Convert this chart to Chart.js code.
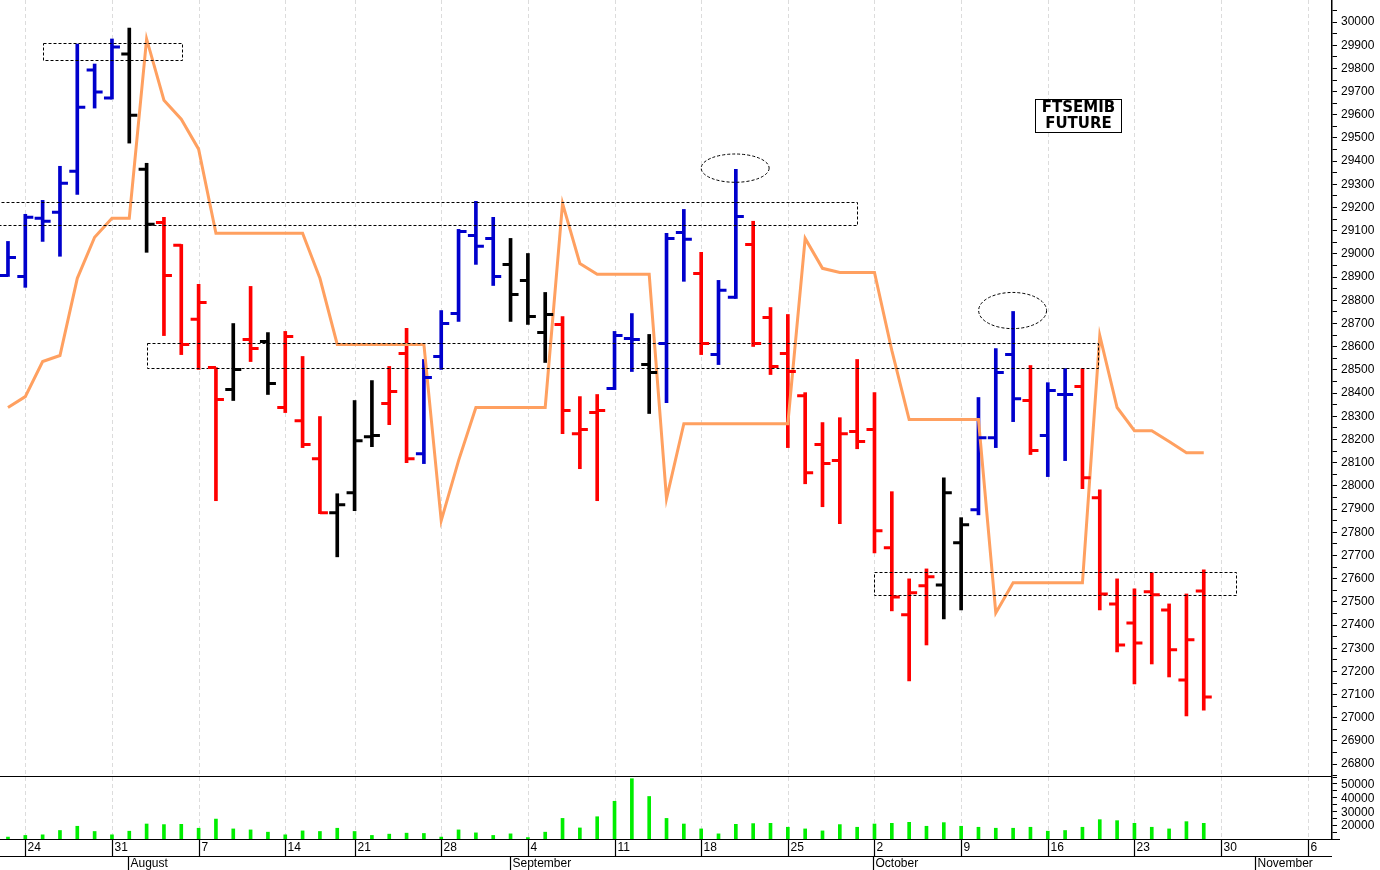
<!DOCTYPE html>
<html><head><meta charset="utf-8">
<script src="https://cdn.jsdelivr.net/npm/chart.js@4"></script>
<style>
html,body{margin:0;padding:0;background:#fff;}
#wrap{position:relative;width:1380px;height:870px;}
</style></head><body>
<div id="wrap"><div id="p1" style="position:absolute;left:0;top:0;width:1380px;height:776px"><canvas id="c1"></canvas></div>
<div id="p2" style="position:absolute;left:0;top:776px;width:1380px;height:94px"><canvas id="c2"></canvas></div></div>
<script>
// ---- data (trading-day index 0 = Fri 21 Jul) ----
const opens  = [28907,28903,29154,29180,29357,29793,29672,29862,29365,29136,29037,28718,28510,28415,28631,28623,28338,28281,28117,27884,27970,28212,28355,28571,28139,28558,28743,29080,29067,28955,28886,28661,28696,28225,28316,28420,28635,28523,28614,29093,28916,28566,28813,29041,28726,28571,28389,28178,28109,28234,28243,27733,27444,27569,27573,27755,27897,28208,28566,28368,28217,28394,28428,27949,27491,27409,27543,27465,27163,27547];
const highs  = [29054,29171,29231,29378,29905,29819,29927,29974,29391,29158,29041,28869,28510,28700,28860,28661,28666,28558,28299,27966,28368,28454,28515,28679,28545,28756,29106,29227,29158,29067,29002,28834,28730,28385,28394,28666,28743,28653,29089,29192,29007,28886,29365,29141,28769,28739,28402,28273,28294,28545,28402,27975,27599,27642,28035,27863,28381,28592,28752,28519,28445,28506,28506,27983,27599,27556,27625,27491,27534,27638];
const lows   = [28903,28856,29054,28990,29257,29629,29668,29478,29007,28648,28566,28502,27936,28368,28536,28394,28316,28165,27880,27694,27893,28169,28264,28100,28096,28502,28709,28955,28864,28709,28696,28532,28225,28074,27936,28415,28493,28312,28359,28882,28566,28523,28808,28601,28480,28165,28009,27910,27837,28160,27711,27461,27159,27314,27426,27465,27875,28165,28277,28135,28040,28109,27988,27465,27284,27146,27232,27176,27008,27033];
const closes = [28985,29158,29141,29305,29633,29698,29892,29598,29128,28907,28610,28791,28372,28502,28592,28441,28644,28178,27884,27919,28195,28217,28407,28117,28467,28700,29097,29033,28903,28825,28730,28739,28325,28243,28325,28648,28631,28489,29067,29063,28614,28843,29162,28614,28515,28493,28057,28096,28225,28191,27806,27521,27539,27608,27970,27832,28208,28489,28376,28152,28411,28394,28035,27534,27314,27323,27530,27293,27336,27090];
const trend  = "uuuuuuunnddddndndddnnndduuuuunnndddu u nuuduudddddddddddnnuuuduudddddddd".replace(/ /g,'');
const stopLine = [28338,28385,28536,28562,28895,29072,29154,29154,29927,29663,29581,29452,29089,29089,29089,29089,29089,29089,28895,28610,28610,28610,28610,28610,28610,27850,28109,28338,28338,28338,28338,28338,29218,28959,28912,28912,28912,28912,27945,28268,28268,28268,28268,28268,28268,28268,29067,28938,28920,28920,28920,28584,28286,28286,28286,28286,28286,27452,27582,27582,27582,27582,27582,28648,28338,28238,28238,28191,28143,28143];
const volumes = [11830,13050,13490,16650,19740,15930,13490,16140,21400,20960,21180,18300,24990,17800,17080,15430,13490,16360,15930,18300,15930,13050,13990,14710,14490,11830,17080,14920,13050,14200,11500,15430,25490,18520,26710,38000,54500,41500,25490,21400,17800,14200,21180,21680,21900,19020,17800,16360,20960,19020,21400,21900,22620,19740,22400,19740,19020,18300,18300,19020,16140,16650,19020,24560,23840,21900,19020,17800,23120,21900];
const volTicks = [20000,30000,40000,50000];
const weekIdx = [1,6,11,16,20,25,30,35,40,45,50,55,60,65,70,75];
const weekLabels = ["24","31","7","14","21","28","4","11","18","25","2","9","16","23","30","6"];
const monthIdx = [7,29,50,72];
const monthLabels = ["August","September","October","November"];
// dashed zones [x0,x1,yTop,yBottom] and ellipses [xc,yc,rx,ry(value)]
const zones = [[2,10,29909,29836],[-1,48.96,29223,29124],[8,62.9,28618,28510],[50,70.9,27630,27530]];
const ellipses = [[41.96,29370,1.96,61],[57.97,28756,1.96,78]];
const title = ["FTSEMIB","FUTURE"];
</script>
<script>
const XMIN=-0.46, XMAX=76.4;
const colOf = t => t==='u' ? '#0000CC' : (t==='d' ? '#FF0000' : '#000000');
const colors = opens.map((_,i)=>colOf(trend[i]));
const idx = opens.map((_,i)=>i);
const FONT = '"Liberation Sans", Arial, sans-serif';

const gridPlugin = {
  id:'grid',
  beforeDatasetsDraw(ch){
    const {ctx,chartArea:a}=ch; const x=ch.scales.x;
    ctx.save(); ctx.strokeStyle='#dcdcdc'; ctx.lineWidth=1; ctx.setLineDash([4,3]);
    weekIdx.forEach(w=>{const px=Math.round(x.getPixelForValue(w))+0.5; ctx.beginPath(); ctx.moveTo(px,a.top); ctx.lineTo(px,a.bottom); ctx.stroke();});
    ctx.restore();
  }
};
const ohlcPlugin = {
  id:'ohlc',
  afterDatasetsDraw(ch){
    if(ch.canvas.id!=='c1') return;
    const {ctx}=ch; const x=ch.scales.x, y=ch.scales.y;
    ctx.save();
    ctx.strokeStyle='#000'; ctx.lineWidth=1; ctx.setLineDash([3,2]);
    zones.forEach(z=>{const x0=x.getPixelForValue(z[0]),x1=x.getPixelForValue(z[1]),y0=y.getPixelForValue(z[2]),y1=y.getPixelForValue(z[3]);
      ctx.strokeRect(Math.round(x0)+0.5,Math.round(y0)+0.5,Math.round(x1-x0),Math.round(y1-y0));});
    ellipses.forEach(e=>{const cx=x.getPixelForValue(e[0]),cy=y.getPixelForValue(e[1]);
      const rx=x.getPixelForValue(e[0]+e[2])-cx, ry=cy-y.getPixelForValue(e[1]+e[3]);
      ctx.beginPath(); ctx.ellipse(cx,cy,rx,ry,0,0,Math.PI*2); ctx.stroke();});
    ctx.setLineDash([]);
    ctx.lineWidth=3;
    idx.forEach(i=>{const px=x.getPixelForValue(i); ctx.strokeStyle=colors[i];
      const yo=y.getPixelForValue(opens[i]), yc=y.getPixelForValue(closes[i]);
      ctx.beginPath(); ctx.moveTo(px-8,yo); ctx.lineTo(px,yo); ctx.moveTo(px,yc); ctx.lineTo(px+8,yc); ctx.stroke();});
    ctx.fillStyle='#fff'; ctx.fillRect(1035.5,99.5,86,33);
    ctx.strokeStyle='#000'; ctx.lineWidth=1; ctx.strokeRect(1035.5,99.5,86,33);
    ctx.fillStyle='#000'; ctx.font='bold 15px "DejaVu Sans", sans-serif'; ctx.textAlign='center'; ctx.textBaseline='middle';
    ctx.fillText(title[0],1078.5,108); ctx.fillText(title[1],1078.5,124);
    ctx.restore();
  }
};
const axisPlugin = {
  id:'bottomAxis',
  afterDraw(ch){
    if(ch.canvas.id!=='c2') return;
    const {ctx,chartArea:a}=ch; const x=ch.scales.x, y=ch.scales.y;
    ctx.save(); ctx.strokeStyle='#000'; ctx.lineWidth=1.2;
    ctx.beginPath(); ctx.moveTo(0,0.5); ctx.lineTo(a.right,0.5);
    ctx.moveTo(0,a.bottom+0.5); ctx.lineTo(a.right+8,a.bottom+0.5);
    ctx.moveTo(0,80.5); ctx.lineTo(a.right,80.5); ctx.stroke();
    ctx.fillStyle='#000'; ctx.font='12px '+FONT; ctx.textBaseline='middle'; ctx.textAlign='left';
    weekIdx.forEach((w,k)=>{const px=Math.round(x.getPixelForValue(w))+0.5;
      ctx.beginPath(); ctx.moveTo(px,a.bottom); ctx.lineTo(px,80); ctx.stroke();
      ctx.fillText(weekLabels[k],px+2,72);});
    monthIdx.forEach((m,k)=>{const px=Math.round(x.getPixelForValue(m))-0.5;
      ctx.beginPath(); ctx.moveTo(px,80); ctx.lineTo(px,94); ctx.stroke();
      ctx.fillText(monthLabels[k],px+2,88);});
    volTicks.forEach(v=>{ctx.fillText(String(v),a.right+9,y.getPixelForValue(v));});
    ctx.restore();
  }
};
const fitY = s=>{s.width=48; s.paddingTop=0; s.paddingBottom=0;};
const tickFont={family:FONT,size:12};
const xScale = {type:'linear',min:XMIN,max:XMAX,display:false,offset:false,grid:{offset:false}};

new Chart(document.getElementById('c1'),{
  data:{datasets:[
    {type:'bar',data:idx.map(i=>({x:i,y:[lows[i],highs[i]]})),backgroundColor:colors,barThickness:3,borderWidth:0,order:2},
    {type:'line',data:idx.map(i=>({x:i,y:stopLine[i]})),borderColor:'#FFA060',borderWidth:3,pointRadius:0,tension:0,order:1}
  ]},
  options:{animation:false,responsive:true,maintainAspectRatio:false,layout:{padding:0},
    plugins:{legend:{display:false},tooltip:{enabled:false}},
    scales:{
      x:xScale,
      y:{position:'right',min:26749,max:30095,afterFit:fitY,
        border:{color:'#000',width:1.5},
        grid:{drawOnChartArea:false,color:'#000',tickLength:5},
        ticks:{stepSize:50,includeBounds:false,autoSkip:false,color:'#000',font:tickFont,padding:4,
          callback:v=>v%100===0?String(v):''}}
    }},
  plugins:[gridPlugin,ohlcPlugin]
});
new Chart(document.getElementById('c2'),{
  data:{datasets:[
    {type:'bar',data:idx.map(i=>({x:i,y:volumes[i]})),backgroundColor:'#00EE00',barThickness:3,borderWidth:0}
  ]},
  options:{animation:false,responsive:true,maintainAspectRatio:false,layout:{padding:{top:1,bottom:31}},
    plugins:{legend:{display:false},tooltip:{enabled:false}},
    scales:{
      x:xScale,
      y:{position:'right',min:10440,max:55737,afterFit:fitY,
        border:{color:'#000',width:1.5},
        grid:{drawOnChartArea:false,color:'#000',tickLength:5},
        ticks:{stepSize:5000,includeBounds:false,autoSkip:false,display:true,color:'rgba(0,0,0,0)',font:{family:FONT,size:1},padding:3}}
    }},
  plugins:[gridPlugin,axisPlugin]
});
</script></body></html>
